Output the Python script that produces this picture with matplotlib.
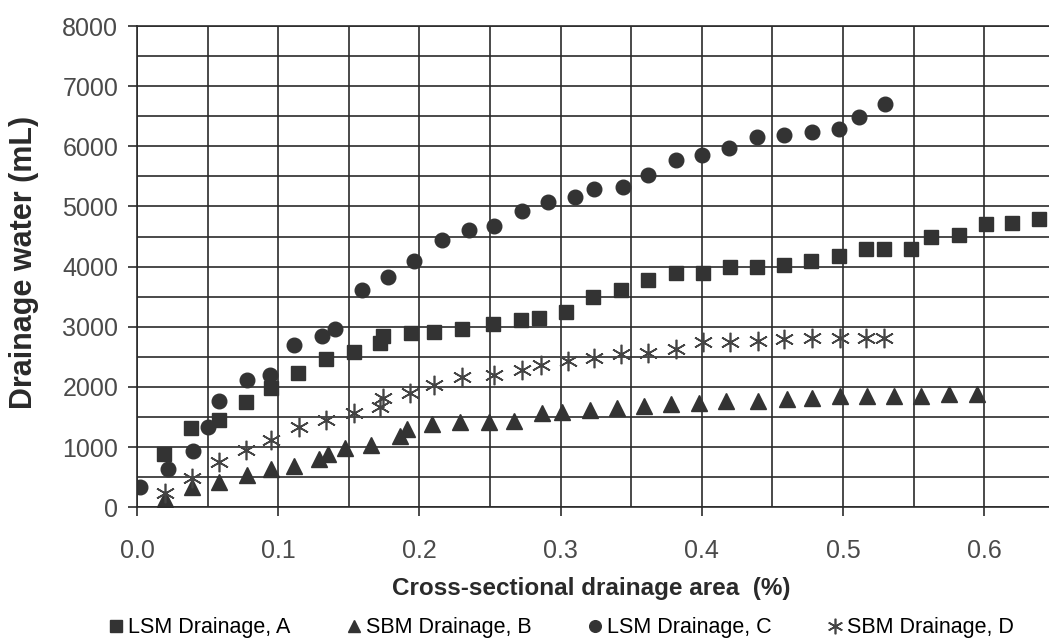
import numpy as np
import matplotlib
matplotlib.use("Agg")
from matplotlib import pyplot as plt
from matplotlib.ticker import MultipleLocator

plt.rcParams['font.family'] = ['Liberation Sans', 'DejaVu Sans']

# LSM Drainage, A (squares)
ax_a = [0.019, 0.038, 0.058, 0.077, 0.095, 0.114, 0.134, 0.154, 0.172, 0.174,
        0.194, 0.210, 0.230, 0.252, 0.272, 0.285, 0.304, 0.323, 0.343, 0.362,
        0.382, 0.401, 0.420, 0.439, 0.458, 0.477, 0.497, 0.516, 0.529, 0.548,
        0.562, 0.582, 0.601, 0.620, 0.639]
ay_a = [890, 1320, 1450, 1750, 1980, 2240, 2470, 2580, 2730, 2850,
        2890, 2920, 2970, 3050, 3120, 3140, 3250, 3490, 3610, 3770,
        3900, 3900, 4000, 4000, 4030, 4090, 4180, 4290, 4290, 4290,
        4500, 4520, 4710, 4720, 4800]

# SBM Drainage, B (triangles)
ax_b = [0.020, 0.039, 0.058, 0.078, 0.095, 0.111, 0.129, 0.135, 0.147, 0.166,
        0.186, 0.191, 0.209, 0.229, 0.249, 0.267, 0.287, 0.301, 0.321, 0.340,
        0.359, 0.378, 0.398, 0.417, 0.440, 0.460, 0.478, 0.498, 0.517, 0.536,
        0.555, 0.575, 0.595]
ay_b = [140, 330, 415, 540, 640, 680, 800, 890, 980, 1040,
        1190, 1300, 1390, 1420, 1420, 1440, 1560, 1580, 1620, 1650,
        1690, 1710, 1740, 1760, 1760, 1800, 1820, 1850, 1850, 1850,
        1850, 1880, 1880]

# LSM Drainage, C (circles)
ax_c = [0.002, 0.022, 0.040, 0.050, 0.058, 0.078, 0.094, 0.111, 0.131, 0.140,
        0.159, 0.178, 0.196, 0.216, 0.235, 0.253, 0.273, 0.291, 0.310, 0.324,
        0.344, 0.362, 0.382, 0.400, 0.419, 0.439, 0.458, 0.478, 0.497, 0.511,
        0.530]
ay_c = [330, 640, 940, 1330, 1770, 2120, 2200, 2700, 2850, 2960,
        3610, 3820, 4100, 4440, 4610, 4670, 4930, 5080, 5160, 5290,
        5330, 5530, 5780, 5860, 5980, 6150, 6190, 6240, 6290, 6480,
        6700]

# SBM Drainage, D (asterisks)
ax_d = [0.020, 0.039, 0.058, 0.077, 0.095, 0.115, 0.134, 0.154, 0.172, 0.174,
        0.193, 0.210, 0.230, 0.253, 0.273, 0.286, 0.305, 0.324, 0.343, 0.362,
        0.382, 0.401, 0.420, 0.440, 0.458, 0.478, 0.498, 0.516, 0.529]
ay_d = [230, 490, 750, 960, 1120, 1330, 1450, 1560, 1670, 1810,
        1900, 2030, 2160, 2200, 2290, 2370, 2430, 2490, 2540, 2570,
        2630, 2740, 2740, 2770, 2790, 2810, 2810, 2810, 2810]

mcol = '#333333'
gcol = '#2b2b2b'

fig = plt.figure(figsize=(10.49, 6.42), dpi=100)
ax = fig.add_axes([0.1306, 0.2098, 0.8694, 0.7497])

ax.plot(ax_a, ay_a, ls='none', marker='s', ms=10.5, color=mcol, label='LSM Drainage, A')
ax.plot(ax_b, ay_b, ls='none', marker='^', ms=11, color=mcol, label='SBM Drainage, B')
ax.plot(ax_c, ay_c, ls='none', marker='o', ms=10.5, color=mcol, label='LSM Drainage, C')
ax.plot(ax_d, ay_d, ls='none', marker=(6, 2, 0), ms=14, mew=1.2, color='#444444',
        label='SBM Drainage, D')

ax.set_xlim(0, 0.6459)
ax.set_ylim(0, 8000)
ax.xaxis.set_major_locator(MultipleLocator(0.1))
ax.xaxis.set_minor_locator(MultipleLocator(0.05))
ax.yaxis.set_major_locator(MultipleLocator(1000))
ax.yaxis.set_minor_locator(MultipleLocator(500))
ax.xaxis.set_major_formatter(lambda v, p: f"{v:.1f}")
ax.grid(True, which='both', color=gcol, lw=1.2)
ax.set_axisbelow(True)

ax.tick_params(which='major', length=6.5, width=1.2, color=gcol, labelsize=18,
               labelcolor='#4a4a4a')
ax.tick_params(axis='x', which='major', pad=16)
ax.tick_params(axis='y', which='major', pad=7)
ax.tick_params(which='minor', length=0)
ax.spines['right'].set_visible(False)
for s in ['left', 'bottom', 'top']:
    ax.spines[s].set_color(gcol)
    ax.spines[s].set_linewidth(1.2)

fig.text(24 / 1049, 1 - 262 / 642, 'Drainage water (mL)', rotation=90,
         ha='center', va='center', fontsize=22, fontweight='bold', color='#2a2a2a')
fig.text(591 / 1049, 1 - 588 / 642, 'Cross-sectional drainage area  (%)',
         ha='center', va='center', fontsize=17.5, fontweight='bold', color='#2a2a2a')

fig.legend(loc='center', bbox_to_anchor=(561 / 1049, 1 - 628 / 642), ncol=4,
           frameon=False, fontsize=15.5, markerscale=0.8, handlelength=0.7,
           handletextpad=0.2, columnspacing=2.6, borderpad=0)

fig.savefig('out.png', dpi=100)
